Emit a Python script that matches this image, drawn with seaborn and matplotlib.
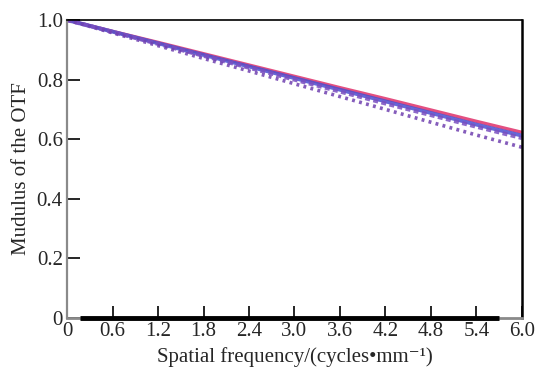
import matplotlib
matplotlib.use("Agg")
import matplotlib.pyplot as plt
import seaborn as sns
import pandas as pd

freq = [0.0, 0.6, 1.2, 1.8, 2.4, 3.0, 3.6, 4.2, 4.8, 5.4, 6.0]
mtf_red = [1.0, 0.962, 0.925, 0.887, 0.849, 0.811, 0.773, 0.736, 0.698, 0.660, 0.623]
mtf_blue = [1.0, 0.961, 0.922, 0.883, 0.844, 0.805, 0.766, 0.727, 0.688, 0.649, 0.612]
mtf_purple = [1.0, 0.960, 0.920, 0.880, 0.840, 0.800, 0.760, 0.720, 0.681, 0.642, 0.604]
mtf_dotted = [1.0, 0.957, 0.914, 0.871, 0.829, 0.786, 0.743, 0.700, 0.657, 0.614, 0.573]
xtick_labels = ["0", "0.6", "1.2", "1.8", "2.4", "3.0", "3.6", "4.2", "4.8", "5.4", "6.0"]
ytick_vals = [0, 0.2, 0.4, 0.6, 0.8, 1.0]
ytick_labels = ["0", "0.2", "0.4", "0.6", "0.8", "1.0"]

sns.set_style("white")
plt.rcParams['font.family'] = ['Liberation Serif', 'DejaVu Serif']

fig = plt.figure(figsize=(5.37, 3.74), dpi=100)
ax = fig.add_axes([0.1248, 0.1497, 0.972 - 0.1248, 0.9465 - 0.1497])

series = [
    (mtf_red, "#e0306a", "-", 2.4),
    (mtf_blue, "#4a4fd0", "-", 2.8),
    (mtf_purple, "#7a4fc0", (0, (1.2, 0.8)), 3.0),
    (mtf_dotted, "#7040b0", (0, (0.8, 1.2)), 2.6),
]
for vals, col, ls, lw in series:
    df = pd.DataFrame({"f": freq, "m": vals})
    sns.lineplot(data=df, x="f", y="m", ax=ax, color=col, linestyle=ls, linewidth=lw, alpha=0.85)

ax.set_xlim(0, 6.0)
ax.set_ylim(0, 1.0)
ax.set_xticks(freq)
ax.set_xticklabels(xtick_labels)
ax.set_yticks(ytick_vals)
ax.set_yticklabels(ytick_labels)
ax.tick_params(axis="both", direction="in", length=9, width=1.2, color="black",
               labelsize=15, pad=3)
ax.tick_params(axis="x", top=False, bottom=True)
ax.tick_params(axis="y", left=True, right=False)
ax.set_xlabel("Spatial frequency/(cycles\u2022mm\u207b\u00b9)", fontsize=15, labelpad=4)
ax.set_ylabel("Mudulus of the OTF", fontsize=15, labelpad=4)

for s in ax.spines.values():
    s.set_visible(True)
ax.spines["left"].set_color("#8a8a8a")
ax.spines["left"].set_linewidth(1.6)
ax.spines["bottom"].set_color("#8a8a8a")
ax.spines["bottom"].set_linewidth(2.0)
ax.spines["right"].set_color("black")
ax.spines["right"].set_linewidth(1.8)
ax.spines["top"].set_color("black")
ax.spines["top"].set_linewidth(1.2)
ax.plot([0.17, 5.7], [0.0, 0.0], color="black", linewidth=3.5, clip_on=False,
        solid_capstyle="butt", transform=ax.get_xaxis_transform(), zorder=5)

fig.savefig("out.png", dpi=100)
